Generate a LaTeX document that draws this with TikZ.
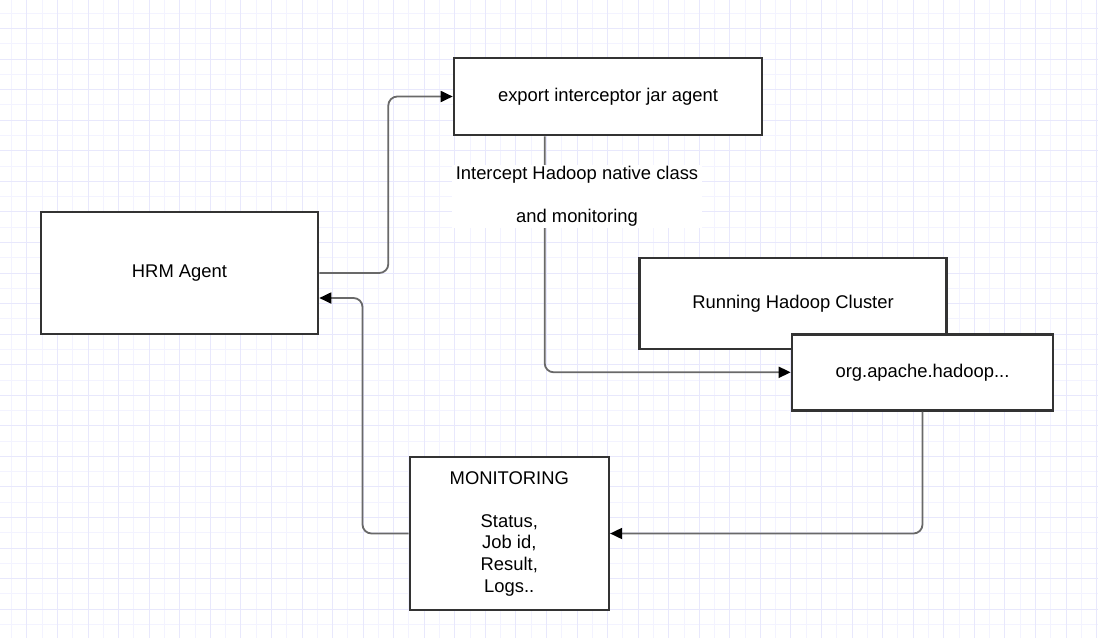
\documentclass[tikz,border=0pt]{standalone}
\usepackage{fontspec}
\setmainfont{Liberation Sans}
\usetikzlibrary{arrows.meta}
\definecolor{gridminor}{RGB}{243,243,255}
\definecolor{gridmajor}{RGB}{232,232,252}
\definecolor{boxline}{RGB}{51,51,51}
\definecolor{conn}{RGB}{105,105,105}
\begin{document}
\begin{tikzpicture}[x=1pt,y=-1pt,
  box/.style={draw=boxline,line width=2.6pt,fill=white,inner sep=0pt,
    font=\fontsize{18.4}{21.6}\selectfont,align=center},
  link/.style={draw=conn,line width=1.8pt,rounded corners=9pt,
    arrows={-{Triangle[length=12pt,width=11pt,color=black]}}},
  lbl/.style={fill=white,inner sep=0pt,align=center,
    font=\fontsize{18.4}{42.7}\selectfont}]
\useasboundingbox (0,0) rectangle (1098,638);
\fill[white] (0,0) rectangle (1098,638);
% grid
\foreach \i in {0,...,72} {
  \pgfmathsetmacro{\gx}{11.7+15.28*\i}
  \draw[gridminor,line width=1pt] (\gx,0) -- (\gx,638);
}
\foreach \i in {0,...,42} {
  \pgfmathsetmacro{\gy}{13.3+15.28*\i}
  \draw[gridminor,line width=1pt] (0,\gy) -- (1098,\gy);
}
\foreach \i in {0,...,36} {
  \pgfmathsetmacro{\gx}{11.7+15.28+30.56*\i}
  \draw[gridmajor,line width=1pt] (\gx,0) -- (\gx,638);
}
\foreach \i in {0,...,21} {
  \pgfmathsetmacro{\gy}{13.3+15.28+30.56*\i}
  \draw[gridmajor,line width=1pt] (0,\gy) -- (1098,\gy);
}
% boxes
\node[box,minimum width=277pt,minimum height=122pt] (hrm) at (179.5,273) {HRM Agent};
\node[box,minimum width=308pt,minimum height=77pt] (export) at (608,96.5) {export interceptor jar agent};
\node[box,minimum width=307pt,minimum height=91pt] (cluster) at (793,303.5) {Running Hadoop Cluster};
\node[box,minimum width=261pt,minimum height=76pt] (org) at (922.5,372.3) {org.apache.hadoop...};
\node[box,minimum width=199pt,minimum height=153pt] (mon) at (509.3,533.5) {MONITORING\\[21.6pt]Status,\\Job id,\\Result,\\Logs..};
% connectors
\draw[link] (hrm.east) -- ++(69,0) |- (export.west);
\draw[link] ([xshift=92pt]export.south west) |- (org.west);
\draw[link] (org.south) |- (mon.east);
\draw[link] (mon.west) -- ++(-46,0) |- ([yshift=-25pt]hrm.east);
% label
\node[lbl,minimum width=250pt,minimum height=63pt] (intercept) at (577,196.5) {Intercept Hadoop native class\\and monitoring};
\end{tikzpicture}
\end{document}
